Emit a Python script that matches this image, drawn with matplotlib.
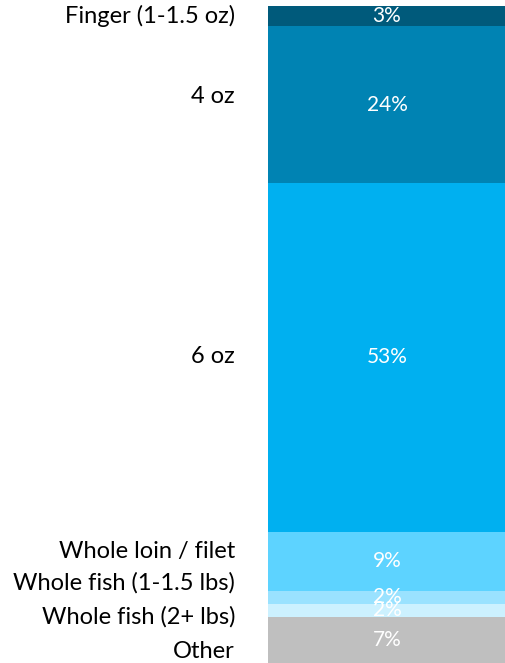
import matplotlib.pyplot as plt

categories = ['Finger (1-1.5 oz)', '4 oz', '6 oz', 'Whole loin / filet',
              'Whole fish (1-1.5 lbs)', 'Whole fish (2+ lbs)', 'Other']
shares = [3, 24, 53, 9, 2, 2, 7]
colors = ['#005A7B', '#0083B3', '#00B0F0', '#5DD3FF', '#9AE2FF', '#CCF1FF', '#BFBFBF']
# category labels sit a little apart from the bar centres where slices are thin
label_y = [1.5, 13.7, 53.4, 83.0, 87.8, 93.0, 98.3]

plt.rcParams['font.family'] = ['Lato', 'DejaVu Sans']

fig = plt.figure(figsize=(5.06, 6.63), dpi=100)
ax = fig.add_axes([268 / 506, 0, 1 - 268 / 506, 1 - 6 / 663])

bottom = 0
for cat, val, col, ly in zip(categories, shares, colors, label_y):
    ax.bar(0, val, bottom=bottom, width=1, color=col)
    ax.text(0, bottom + val / 2, f'{val}%', ha='center', va='center',
            color='white', fontsize=15)
    ax.text(-0.5 - 33 / 238, ly, cat, ha='right', va='center',
            color='black', fontsize=17)
    bottom += val

ax.set_xlim(-0.5, 0.5)
ax.set_ylim(100, 0)
ax.axis('off')

fig.savefig('out.png', dpi=100)
